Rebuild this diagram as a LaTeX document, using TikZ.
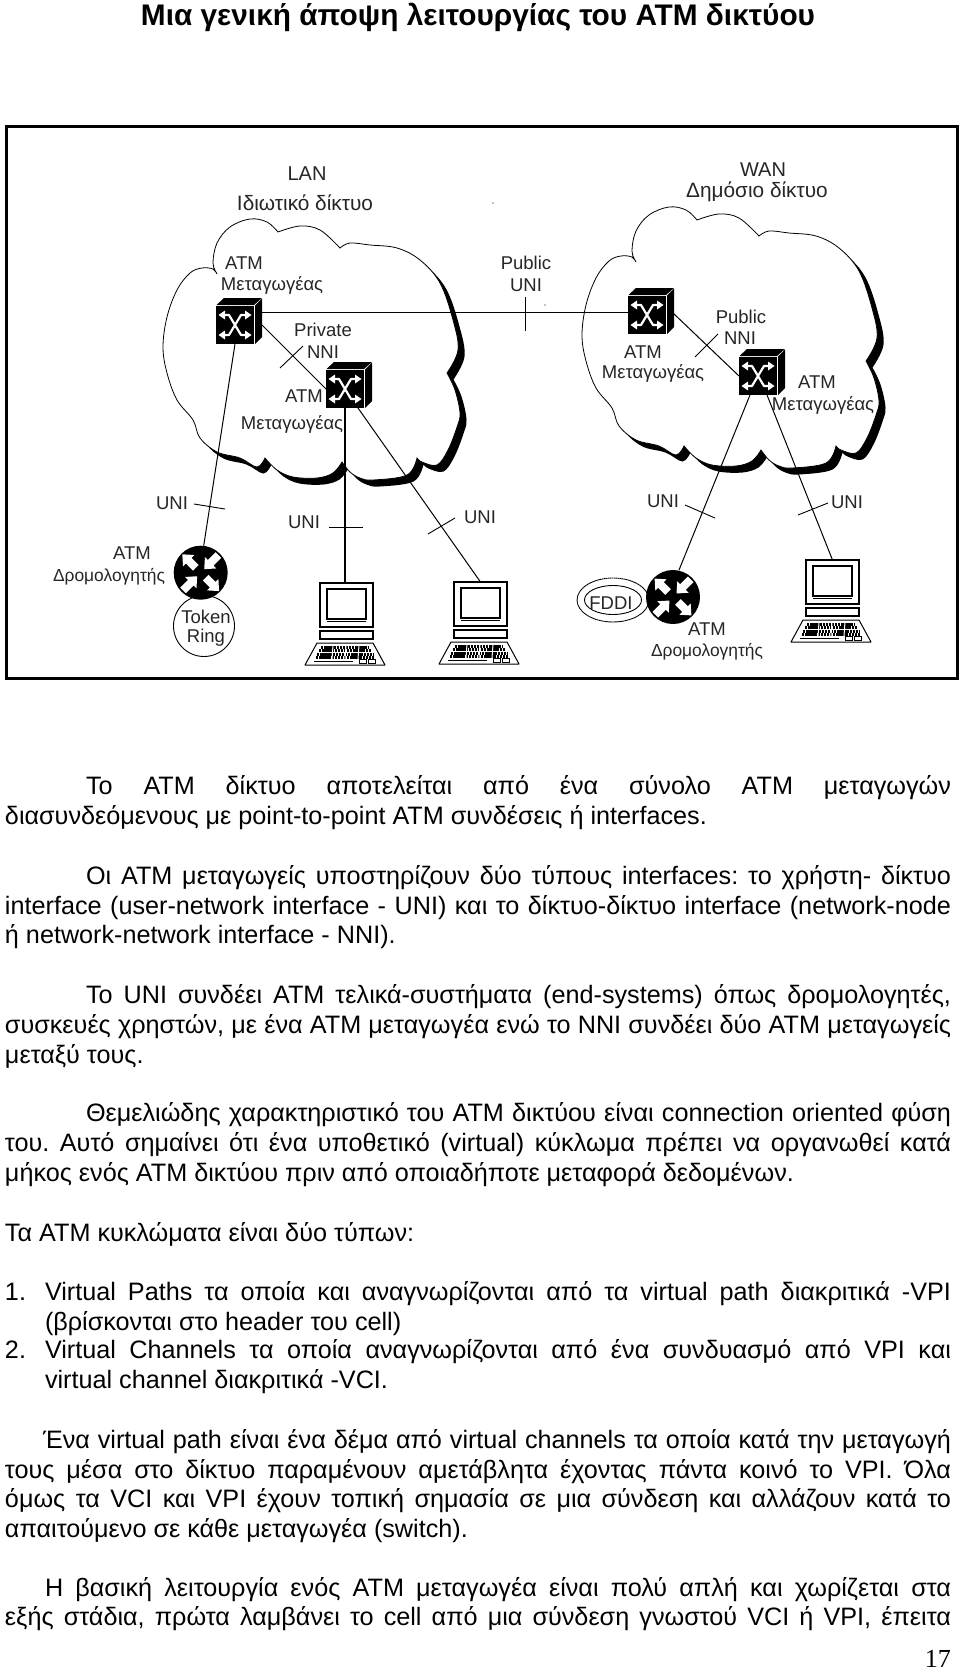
\documentclass[tikz,border=0pt]{standalone}
\usepackage{fontspec}
\usetikzlibrary{shapes.geometric}
\setmainfont{Liberation Sans}
\newfontfamily\pagenumfont{Liberation Serif}
\frenchspacing
\tikzset{
  txt/.style={inner sep=0pt,outer sep=0pt,font=\fontsize{25.2}{29}\selectfont},
  lbl/.style={inner sep=0pt,outer sep=0pt,font=\fontsize{18.5}{22}\selectfont,text=black!85},
  lblbig/.style={lbl,font=\fontsize{20}{24}\selectfont},
  lblsub/.style={lbl,font=\fontsize{20.8}{24}\selectfont},
  lblrt/.style={lbl,font=\fontsize{17.4}{21}\selectfont},
  link/.style={draw=black,line width=1pt},
  tickmark/.style={draw=black,line width=.9pt},
  swbox/.style={rectangle,fill=black,minimum width=38pt,minimum height=38pt,inner sep=0pt,outer sep=0pt},
  rtbox/.style={circle,fill=black,minimum size=54pt,inner sep=0pt,outer sep=0pt},
  pcbox/.style={rectangle,draw=black,line width=1.1pt,fill=white,minimum width=53pt,minimum height=44pt,inner sep=0pt,outer sep=0pt},
}
% Justified and natural-width lines of body text
\newcommand{\jline}[5]{\node[txt,anchor=base west] (#1) at (#2,#3) {\makebox[#4pt][s]{#5}};}
\newcommand{\pline}[4]{\node[txt,anchor=base west] (#1) at (#2,#3) {#4};}
% Cloud outline, one segment per lobe so the cusps stay sharp
\newcommand{\cloudpath}{
  plot[smooth,tension=.6] coordinates {(217,274) (213,269) (202,268) (190,273) (177,290) (167,317) (163,347) (167,373) (177,400) (193,420) (200,438) (217,452) (240,458) (257,467) (265,458)}
  -- plot[smooth,tension=.6] coordinates {(265,458) (277,470) (293,477) (317,478) (333,473) (342,462)}
  -- plot[smooth,tension=.6] coordinates {(342,462) (350,472) (360,478) (373,480) (407,475) (417,458)}
  -- plot[smooth,tension=.6] coordinates {(417,458) (422,462) (437,465) (448,450) (457,427) (460,413) (455,390) (447,373)}
  -- plot[smooth,tension=.6] coordinates {(447,373) (458,350) (453,320) (440,283) (420,260) (397,248) (370,245) (350,243) (340,248)}
  -- plot[smooth,tension=.6] coordinates {(340,248) (320,230) (300,226) (278,232)}
  -- plot[smooth,tension=.6] coordinates {(278,232) (267,222) (250,219) (230,227) (217,243) (213,263) (217,274)}
  -- cycle
}
\newcommand{\cloudat}[2]{
  \begin{scope}[shift={(#1+6.5,#2+6.5)}]\fill[black] \cloudpath;\end{scope}
  \begin{scope}[shift={(#1,#2)}]\filldraw[fill=white,draw=black,line width=.8pt] \cloudpath;\end{scope}
}
% Switch cube: #2,#3 is the top-left corner of the front face
\newcommand{\atmswitch}[3]{
  \node[swbox] (#1) at (#2+19,#3+19) {};
  \begin{scope}[shift={(#2,#3)}]
    \fill[black] (0.5,-1) -- (8,-8) -- (46,-8) -- (38,-1) -- cycle;
    \fill[black] (39,-0.5) -- (46,-7.5) -- (46,31) -- (39,38) -- cycle;
    \draw[white,line width=2.2pt,line join=round] (7,9) -- (13,9) -- (25,29) -- (31,29);
    \draw[white,line width=2.2pt,line join=round] (31,9) -- (25,9) -- (13,29) -- (7,29);
    \fill[white] (2.5,9) -- (9,4.5) -- (9,13.5) -- cycle;
    \fill[white] (35.5,9) -- (29,4.5) -- (29,13.5) -- cycle;
    \fill[white] (2.5,29) -- (9,24.5) -- (9,33.5) -- cycle;
    \fill[white] (35.5,29) -- (29,24.5) -- (29,33.5) -- cycle;
  \end{scope}
}
% Router disc with two inward and two outward block arrows
\newcommand{\inarrow}[1]{\fill[white,rotate=#1] (5,0) -- (14,-8) -- (14,-4) -- (25,-4) -- (25,4) -- (14,4) -- (14,8) -- cycle;}
\newcommand{\outarrow}[1]{\fill[white,rotate=#1] (26,0) -- (17,-8) -- (17,-4) -- (7,-4) -- (7,4) -- (17,4) -- (17,8) -- cycle;}
\newcommand{\atmrouter}[3]{
  \node[rtbox] (#1) at (#2,#3) {};
  \begin{scope}[shift={(#2,#3)}]
    \inarrow{225}\inarrow{45}\outarrow{-45}\outarrow{135}
  \end{scope}
}
% Workstation: #2,#3 is the top-left corner of the monitor
\newcommand{\workstation}[3]{
  \node[pcbox] (#1) at (#2+26.5,#3+22) {};
  \begin{scope}[shift={(#2,#3)}]
    \draw[line width=1.9pt] (7,6) rectangle (46,36);
    \draw[line width=.7pt] (7,38) -- (46,38);
    \draw[line width=1.1pt] (0,48) rectangle (53,56);
    \draw[line width=1pt,line join=round] (-15,82) -- (-3,60) -- (53,60) -- (65,82) -- cycle;
    \foreach \yy/\xa/\xb in {64/1/49,67.5/-1/51,71/-3/53,74.5/-4/54}
      \draw[line width=3pt,dash pattern=on 2.4pt off .7pt] (\xa,\yy) -- (\xb,\yy);
    % gaps between the key clusters
    \foreach \xc in {13,26,39}
      \draw[white,line width=1pt] (\xc,62) -- (\xc-1,76);
    \draw[line width=1pt] (-6,78) -- (33,78);
    \draw[line width=.7pt] (39,76.5) rectangle (46,80);
    \draw[line width=.7pt] (48,76.5) rectangle (55,80);
  \end{scope}
}
% Short stroke across a link
\newcommand{\crossmark}[5]{
  \coordinate (#1a) at (#2,#3);
  \coordinate (#1b) at (#4,#5);
  \draw[tickmark] (#1a) -- (#1b);
}
\begin{document}
\begin{tikzpicture}[x=1pt,y=-1pt]
\useasboundingbox (0,0) rectangle (960,1670);
\fill[white] (0,0) rectangle (960,1670);

\node[inner sep=0pt,font=\bfseries\fontsize{29.8}{34}\selectfont] (title) at (478,17) {Μια γενική άποψη λειτουργίας του ΑΤΜ δικτύου};

% Figure frame
\node[draw=black,line width=3pt,minimum width=951pt,minimum height=552pt,inner sep=0pt] (frame) at (481.5,402) {};

% Networks
\cloudat{0}{0}
\cloudat{419}{-12}

% End stations
\workstation{pc1}{320}{583}
\workstation{pc2}{454}{582}
\workstation{pc3}{806}{560}

% Token Ring and FDDI rings sit behind the routers
\node[circle,draw=black,line width=.9pt,minimum size=61pt,inner sep=0pt] (tr) at (204,626) {};
\node[ellipse,draw=black,line width=.9pt,dash pattern=on 1.6pt off .4pt,minimum width=72pt,minimum height=44pt,inner sep=0pt] (fddi) at (613,600) {};
\node[ellipse,draw=black,line width=.9pt,minimum width=57pt,minimum height=29pt,inner sep=0pt] (fddin) at (613,600) {};

\atmrouter{r1}{200.7}{572.7}
\atmrouter{r2}{673}{597}

% Switch front faces first, so the links can name them
\node[swbox] (s1) at (235,325) {};
\node[swbox] (s2) at (345,389) {};
\node[swbox] (s3) at (647,315) {};
\node[swbox] (s4) at (758,376) {};

% Links
\draw[link] ([xshift=8pt,yshift=13pt]s1.east) -- ([yshift=3pt]s3.west);
\draw[link] ([xshift=8pt]s1.east) -- (s2.west);
\draw[link] (s1.south) -- ([xshift=3pt]r1.north);
\draw[link,line width=1.3pt] (s2.south) -- (s2.south |- pc1.north);
\draw[link] ([xshift=13pt]s2.south) -- (pc2.north);
\draw[link] ([xshift=7pt,yshift=2pt]s3.east) -- (s4.west);
\draw[link] ([xshift=-8pt]s4.south) -- ([xshift=6pt]r2.north);
\draw[link] ([xshift=9pt]s4.south) -- (pc3.north);

% Switch cubes
\atmswitch{sw1}{216}{306}
\atmswitch{sw2}{326}{370}
\atmswitch{sw3}{628}{296}
\atmswitch{sw4}{739}{357}

% Interface strokes
\crossmark{tkpu}{525.7}{297}{525.7}{331}
\crossmark{tkpn}{280}{368}{303}{346}
\crossmark{tkwn}{695}{357}{718}{334}
\crossmark{tkua}{194}{504}{225}{509}
\crossmark{tkub}{329}{527}{363}{527}
\crossmark{tkuc}{428}{534}{455}{518}
\crossmark{tkud}{685}{505}{715}{518}
\crossmark{tkue}{798}{515}{828}{503}

% Small specks in the open area
\fill (493,203) circle (.7);
\fill (545,305) circle (.7);

% Diagram labels
\node[lblbig] (lan) at (307,174) {LAN};
\node[lblsub] (lansub) at (305,203) {Ιδιωτικό δίκτυο};
\node[lbl] (a1) at (244,263) {ATM};
\node[lbl] (m1) at (272,285) {Μεταγωγέας};
\node[lbl] (pn1) at (323,330) {Private};
\node[lbl] (pn2) at (323,352) {NNI};
\node[lbl] (a2) at (304,396) {ATM};
\node[lbl] (m2) at (292,424) {Μεταγωγέας};
\node[lbl] (pu1) at (526,263) {Public};
\node[lbl] (pu2) at (526,285) {UNI};
\node[lblbig] (wan) at (763,170) {WAN};
\node[lblsub] (wansub) at (757,192) {Δημόσιο δίκτυο};
\node[lbl] (wn1) at (741,317) {Public};
\node[lbl] (wn2) at (740,338) {NNI};
\node[lbl] (a3) at (643,352) {ATM};
\node[lbl] (m3) at (653,373) {Μεταγωγέας};
\node[lbl] (a4) at (817,382) {ATM};
\node[lbl] (m4) at (823,405) {Μεταγωγέας};
\node[lbl] (u1) at (172,503) {UNI};
\node[lbl] (u2) at (304,522) {UNI};
\node[lbl] (u3) at (480,517) {UNI};
\node[lbl] (u4) at (663,501) {UNI};
\node[lbl] (u5) at (847,502) {UNI};
\node[lbl] (a5) at (132,553) {ATM};
\node[lblrt] (d1) at (109,577) {Δρομολογητής};
\node[lbl] (tk) at (206,617) {Token};
\node[lbl] (rg) at (206,638) {Ring};
\node[lbl] (fd) at (611,603) {FDDI};
\node[lbl] (a6) at (707,629) {ATM};
\node[lblrt] (d2) at (707,652) {Δρομολογητής};

% Body text
\jline{t01}{86}{794}{865}{Το ΑΤΜ δίκτυο αποτελείται από ένα σύνολο ΑΤΜ μεταγωγών}
\pline{t02}{5}{824}{διασυνδεόμενους με point-to-point ΑΤΜ συνδέσεις ή interfaces.}
\jline{t03}{86}{884}{865}{Οι ΑΤΜ μεταγωγείς υποστηρίζουν δύο τύπους interfaces: το χρήστη- δίκτυο}
\jline{t04}{5}{914}{946}{interface (user-network interface - UNI) και το δίκτυο-δίκτυο interface (network-node}
\pline{t05}{5}{943}{ή network-network interface - NNI).}
\jline{t06}{86}{1003}{865}{Το UNI συνδέει ΑΤΜ τελικά-συστήματα (end-systems) όπως δρομολογητές,}
\jline{t07}{5}{1033}{946}{συσκευές χρηστών, με ένα ΑΤΜ μεταγωγέα ενώ το NNI συνδέει δύο ΑΤΜ μεταγωγείς}
\pline{t08}{5}{1063}{μεταξύ τους.}
\jline{t09}{86}{1121}{865}{Θεμελιώδης χαρακτηριστικό του ΑΤΜ δικτύου είναι connection oriented φύση}
\jline{t10}{5}{1151}{946}{του. Αυτό σημαίνει ότι ένα υποθετικό (virtual) κύκλωμα πρέπει να οργανωθεί κατά}
\pline{t11}{5}{1181}{μήκος ενός ΑΤΜ δικτύου πριν από οποιαδήποτε μεταφορά δεδομένων.}
\pline{t12}{5}{1241}{Τα ΑΤΜ κυκλώματα είναι δύο τύπων:}
\pline{n1}{5}{1300}{1.}
\jline{t13}{45}{1300}{906}{Virtual Paths τα οποία και αναγνωρίζονται από τα virtual path διακριτικά -VPI}
\pline{t14}{45}{1330}{(βρίσκονται στο header του cell)}
\pline{n2}{5}{1358}{2.}
\jline{t15}{45}{1358}{906}{Virtual Channels τα οποία αναγνωρίζονται από ένα συνδυασμό από VPI και}
\pline{t16}{45}{1388}{virtual channel διακριτικά -VCI.}
\jline{t17}{43}{1448}{908}{Ένα virtual path είναι ένα δέμα από virtual channels τα οποία κατά την μεταγωγή}
\jline{t18}{5}{1478}{946}{τους μέσα στο δίκτυο παραμένουν αμετάβλητα έχοντας πάντα κοινό το VPI. Όλα}
\jline{t19}{5}{1507}{946}{όμως τα VCI και VPI έχουν τοπική σημασία σε μια σύνδεση και αλλάζουν κατά το}
\pline{t20}{5}{1537}{απαιτούμενο σε κάθε μεταγωγέα (switch).}
\jline{t21}{45}{1596}{906}{Η βασική λειτουργία ενός ΑΤΜ μεταγωγέα είναι πολύ απλή και χωρίζεται στα}
\jline{t22}{5}{1625}{946}{εξής στάδια, πρώτα λαμβάνει το cell από μια σύνδεση γνωστού VCI ή VPI, έπειτα}
\node[inner sep=0pt,anchor=base east,font=\pagenumfont\fontsize{26}{30}\selectfont] (pageno) at (951,1667) {17};
\end{tikzpicture}
\end{document}
